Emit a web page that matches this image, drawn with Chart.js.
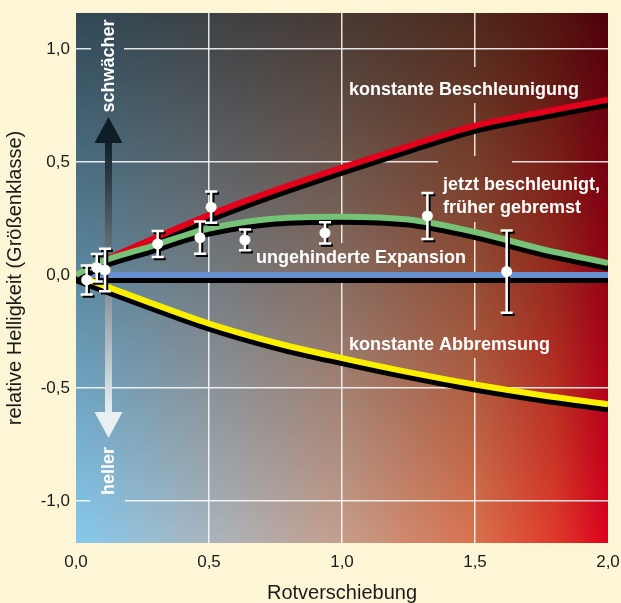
<!DOCTYPE html>
<html><head><meta charset="utf-8">
<script src="https://cdn.jsdelivr.net/npm/chart.js@4"></script>
<style>html,body{margin:0;padding:0;background:#fdf6d6;}#wrap{width:621px;height:603px;}</style>
</head><body><div id="wrap"><canvas id="c" width="621" height="603"></canvas></div>
<script>
// ---- data ----
const zGrid      = [0, 0.1, 0.25, 0.5, 0.75, 1.0, 1.25, 1.5, 1.75, 2.0];
const redVals    = [0, 0.06, 0.14, 0.265, 0.375, 0.475, 0.57, 0.66, 0.72, 0.775];
const greenVals  = [0, 0.06, 0.115, 0.205, 0.25, 0.258, 0.245, 0.19, 0.115, 0.053];
const blueVals   = [0, 0, 0, 0, 0, 0, 0, 0, 0, 0];
const yellowVals = [0, -0.045, -0.11, -0.215, -0.30, -0.368, -0.43, -0.485, -0.532, -0.572];
const snZ   = [0.040, 0.078, 0.109, 0.307, 0.466, 0.508, 0.635, 0.936, 1.321, 1.619];
const snMag = [-0.022, 0.032, 0.022, 0.137, 0.165, 0.300, 0.155, 0.186, 0.261, 0.015];
const snErr = [0.064, 0.061, 0.094, 0.058, 0.071, 0.069, 0.046, 0.047, 0.102, 0.182];
const xTicks = [0, 0.5, 1.0, 1.5, 2.0];
const yTicks = [-1.0, -0.5, 0, 0.5, 1.0];
const curveNames = ['ungehinderte Expansion', 'konstante Abbremsung', 'konstante Beschleunigung', 'jetzt beschleunigt, früher gebremst'];
const xTitle = 'Rotverschiebung';
const yTitle = 'relative Helligkeit (Größenklasse)';

const pts = vals => zGrid.map((z, i) => ({x: z, y: vals[i]}));
const fmt = v => v.toFixed(1).replace('.', ',');

function paintBg(ctx, a) {
  const w = a.right - a.left, h = a.bottom - a.top;
  const g = ctx.createLinearGradient(a.left, 0, a.right, 0);
  g.addColorStop(0, '#86c9ee');
  g.addColorStop(0.25, '#a9b5be');
  g.addColorStop(0.5, '#c69e8c');
  g.addColorStop(0.75, '#d9724e');
  g.addColorStop(0.9, '#e03a2a');
  g.addColorStop(1, '#dc001e');
  ctx.fillStyle = g; ctx.fillRect(a.left, a.top, w, h);
  const v = ctx.createLinearGradient(0, a.top, 0, a.bottom);
  v.addColorStop(0, 'rgba(0,0,0,0.64)');
  v.addColorStop(1, 'rgba(0,0,0,0)');
  ctx.fillStyle = v; ctx.fillRect(a.left, a.top, w, h);
}

const DOTS = 0;
const bgPlugin = {
  id: 'bg',
  beforeDraw(chart) {
    const ctx = chart.ctx;
    ctx.save();
    ctx.fillStyle = '#fdf6d6';
    ctx.fillRect(0, 0, chart.width, chart.height);
    paintBg(ctx, chart.chartArea);
    ctx.restore();
  },
  beforeDatasetsDraw(chart) {
    const ctx = chart.ctx, a = chart.chartArea;
    const boxes = [[91,13,33,104],[90,442,35,64],[345,67,240,36],[438,156,74,14],[438,168,166,54],[250,243,222,29],[344,330,212,28]];
    boxes.forEach(b => { ctx.save(); ctx.beginPath(); ctx.rect(b[0], b[1], b[2], b[3]); ctx.clip(); paintBg(ctx, a); ctx.restore(); });
    ctx.save();
    const cx = 108.5;
    const sg = ctx.createLinearGradient(0, 143, 0, 412);
    sg.addColorStop(0, 'rgba(14,28,38,0.95)');
    sg.addColorStop(1, 'rgba(236,242,246,0.95)');
    ctx.fillStyle = sg;
    ctx.fillRect(cx - 3.5, 142, 7, 271);
    ctx.fillStyle = '#0f1d27';
    ctx.beginPath(); ctx.moveTo(cx, 117); ctx.lineTo(cx + 14, 143); ctx.lineTo(cx - 14, 143); ctx.closePath(); ctx.fill();
    ctx.fillStyle = '#e9eff3';
    ctx.beginPath(); ctx.moveTo(cx, 438); ctx.lineTo(cx + 14, 412); ctx.lineTo(cx - 14, 412); ctx.closePath(); ctx.fill();
    ctx.restore();
  },
  beforeDatasetDraw(chart, args) {
    const ctx = chart.ctx;
    if (args.index !== DOTS) {
      ctx.save();
      ctx.shadowColor = '#000'; ctx.shadowOffsetX = 0; ctx.shadowOffsetY = 5; ctx.shadowBlur = 0;
    } else {
      const x = chart.scales.x, y = chart.scales.y;
      const draw = (dx, dy, col) => {
        ctx.save();
        ctx.strokeStyle = col; ctx.lineWidth = 2.5; ctx.lineCap = 'butt';
        snZ.forEach((z, i) => {
          const px = x.getPixelForValue(z) + dx;
          const t = y.getPixelForValue(snMag[i] + snErr[i]) + dy;
          const b = y.getPixelForValue(snMag[i] - snErr[i]) + dy;
          ctx.beginPath();
          ctx.moveTo(px, t); ctx.lineTo(px, b);
          ctx.moveTo(px - 6, t); ctx.lineTo(px + 6, t);
          ctx.moveTo(px - 6, b); ctx.lineTo(px + 6, b);
          ctx.stroke();
        });
        ctx.restore();
      };
      draw(2, 2, '#000');
      draw(0, 0, '#ffffff');
    }
  },
  afterDatasetDraw(chart, args) {
    if (args.index !== DOTS) chart.ctx.restore();
  },
  afterDatasetsDraw(chart) {
    const ctx = chart.ctx;
    ctx.save();
    ctx.fillStyle = '#ffffff';
    ctx.font = 'bold 18px "Liberation Sans", Arial, sans-serif';
    ctx.textAlign = 'left'; ctx.textBaseline = 'alphabetic';
    ctx.fillText(curveNames[2], 349, 95);
    const parts = curveNames[3].split(', ');
    ctx.fillText(parts[0] + ',', 443, 190);
    ctx.fillText(parts[1], 443, 213);
    ctx.fillText(curveNames[0], 256, 263);
    ctx.fillText(curveNames[1], 349, 350);
    ctx.textAlign = 'center'; ctx.textBaseline = 'middle';
    [['schwächer', 66], ['heller', 471]].forEach(([t, cy]) => {
      ctx.save(); ctx.translate(109, cy); ctx.rotate(-Math.PI / 2); ctx.fillText(t, 0, 0); ctx.restore();
    });
    ctx.restore();
  }
};

const lineDs = (vals, color) => ({
  data: pts(vals), showLine: true, borderColor: color, borderWidth: 6,
  pointRadius: 0, pointHoverRadius: 0, cubicInterpolationMode: 'monotone', fill: false
});

// Chart.js draws the last dataset first: blue lowest, dots on top
new Chart(document.getElementById('c'), {
  type: 'scatter',
  data: {
    datasets: [
      { data: snZ.map((z, i) => ({x: z, y: snMag[i]})), pointRadius: 5.5, pointHoverRadius: 5.5, pointBackgroundColor: '#ffffff', pointBorderWidth: 0, showLine: false },
      lineDs(greenVals, '#76c277'),
      lineDs(redVals, '#e2001a'),
      lineDs(yellowVals, '#fbef00'),
      lineDs(blueVals, '#6690cf')
    ]
  },
  options: {
    responsive: false, animation: false, devicePixelRatio: 1,
    layout: {padding: {top: 13, right: 13, left: 0, bottom: 0}},
    plugins: {legend: {display: false}, tooltip: {enabled: false}},
    scales: {
      x: {
        type: 'linear', min: 0, max: 2,
        afterBuildTicks: s => { s.ticks = xTicks.map(v => ({value: v})); },
        afterFit: s => { s.height = 60; s.paddingLeft = 0; s.paddingRight = 0; },
        border: {display: false},
        grid: {drawTicks: false, lineWidth: 1.5, color: c => (c.tick && (c.tick.value === 0 || c.tick.value === 2)) ? 'rgba(0,0,0,0)' : 'rgba(255,255,255,0.85)'},
        ticks: {padding: 9, color: '#1a1a1a', font: {family: '"Liberation Sans", Arial, sans-serif', size: 17}, callback: v => fmt(v), maxRotation: 0},
        title: {display: true, text: xTitle, color: '#1a1a1a', font: {family: '"Liberation Sans", Arial, sans-serif', size: 20, lineHeight: 1.0}, padding: {top: 0, bottom: 0}}
      },
      y: {
        type: 'linear', min: -1.186, max: 1.159,
        afterBuildTicks: s => { s.ticks = yTicks.map(v => ({value: v})); },
        afterFit: s => { s.width = 76; s.paddingTop = 0; s.paddingBottom = 0; },
        border: {display: false},
        grid: {drawTicks: false, lineWidth: 1.5, color: 'rgba(255,255,255,0.85)'},
        ticks: {padding: 6, color: '#1a1a1a', font: {family: '"Liberation Sans", Arial, sans-serif', size: 17}, callback: v => fmt(v)},
        title: {display: true, text: yTitle, color: '#1a1a1a', font: {family: '"Liberation Sans", Arial, sans-serif', size: 20, lineHeight: 1.0}, padding: {top: 5, bottom: 0}}
      }
    }
  },
  plugins: [bgPlugin]
});
</script></body></html>
